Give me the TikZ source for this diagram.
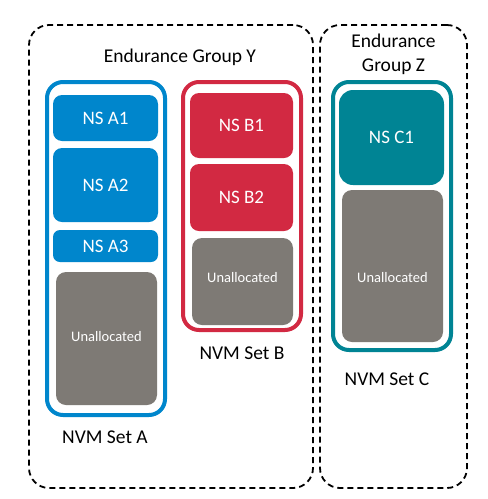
\documentclass[tikz,border=0pt]{standalone}
\usepackage{fontspec}
\setmainfont{Carlito}
\definecolor{setblue}{RGB}{0,134,204}
\definecolor{setred}{RGB}{210,41,66}
\definecolor{setteal}{RGB}{0,132,148}
\definecolor{freegrey}{RGB}{126,122,117}
\begin{document}
\begin{tikzpicture}[x=1pt,y=-1pt,
  group/.style={draw=black,line width=1.8pt,dash pattern=on 6pt off 4pt,rounded corners=20pt,inner sep=0pt},
  nvmset/.style={draw=#1,line width=4pt,rounded corners=16pt,fill=white,inner sep=0pt},
  ns/.style={fill=#1,rounded corners=9pt,text=white,font=\fontsize{19}{21}\selectfont,inner sep=0pt},
  free/.style={fill=freegrey,rounded corners=10pt,inner sep=0pt},
  freetxt/.style={text=white,font=\fontsize{14.5}{16}\selectfont,inner sep=0pt},
  lbl/.style={text=black,font=\fontsize{19.5}{23}\selectfont,inner sep=0pt,align=center}]
\useasboundingbox[fill=white] (0,0) rectangle (488,499);
% endurance groups
\node[group,minimum width=284pt,minimum height=463pt] (gy) at (171,256.5) {};
\node[group,minimum width=147pt,minimum height=463pt] (gz) at (393.5,256.5) {};
\node[lbl] (gyt) at (180,57) {Endurance Group Y};
\node[lbl] (gzt) at (393.5,54.5) {Endurance\\[1pt]Group Z};
% NVM set A
\node[nvmset=setblue,minimum width=118pt,minimum height=333pt] (sa) at (106,248.5) {};
\node[ns=setblue,minimum width=105pt,minimum height=46pt] (a1) at (105.5,118) {NS A1};
\node[ns=setblue,minimum width=105pt,minimum height=74pt] (a2) at (105.5,185) {NS A2};
\node[ns=setblue,minimum width=105pt,minimum height=32pt,rounded corners=7pt] (a3) at (105.5,246) {NS A3};
\node[free,minimum width=101pt,minimum height=133pt] (ua) at (106.5,338.5) {};
\node[freetxt] (uat) at (106.5,337) {Unallocated};
\node[lbl] (sat) at (105,437) {NVM Set A};
% NVM set B
\node[nvmset=setred,minimum width=118pt,minimum height=248pt] (sb) at (242,206) {};
\node[ns=setred,minimum width=103pt,minimum height=65pt] (b1) at (241.5,125.5) {NS B1};
\node[ns=setred,minimum width=103pt,minimum height=67pt] (b2) at (241.5,197.5) {NS B2};
\node[free,minimum width=101pt,minimum height=87pt] (ub) at (242.5,281.5) {};
\node[freetxt] (ubt) at (242.5,278) {Unallocated};
\node[lbl] (sbt) at (242,353) {NVM Set B};
% NVM set C
\node[nvmset=setteal,minimum width=118pt,minimum height=268pt] (sc) at (392,216) {};
\node[ns=setteal,minimum width=105pt,minimum height=95pt,rounded corners=14pt] (c1) at (391.5,137.5) {NS C1};
\node[free,minimum width=101pt,minimum height=152pt] (uc) at (392.5,266) {};
\node[freetxt] (uct) at (392.5,278) {Unallocated};
\node[lbl] (sct) at (387,379) {NVM Set C};
\end{tikzpicture}
\end{document}
